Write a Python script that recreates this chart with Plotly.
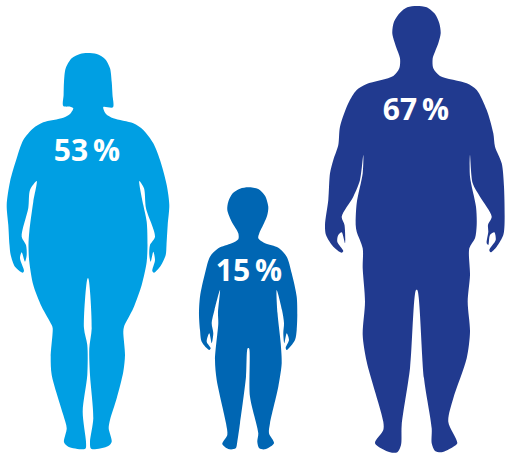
import plotly.graph_objects as go

groups = ["Women", "Children", "Men"]
shares = [53, 15, 67]
unit = "\u2009%"
colors = ["#009FE3", "#0066B3", "#213A8F"]

woman_outline = [
    (87.3,53),(96.7,54),(105,59),(110,68.3),(111.7,81.7),(112.5,95),(113,107.3),(103.3,107),(106,114),(113.3,118.3),
    (133.3,123.3),(143.3,130),(153.3,143.3),(160,160),(166.7,185),(169.3,205),(167.7,225),(166.5,245),(165.7,255),
    (160.7,265.7),(154,272.7),(152.3,271),(155,260),(153.3,251.7),(150.7,261.7),(149.3,255),(150,245),(155,236.7),
    (146,208.3),(144,188.3),(139.3,181),(143.3,205),(146.7,221.7),(147.5,245),(146.7,261.7),(141.7,285),(133.3,308.3),
    (124,326.7),(123.3,331.7),(125,355),(123.3,371.7),(116.7,398.3),(110,420),(108.7,428.3),(111.7,441.7),(108.3,446),
    (93.3,449.3),(90.7,448.3),(90,441.7),(93.3,418.3),(90,375),(89.3,348.3),(91.7,328.3),(88.3,278.3),(87.6,278.3),
    (84,328.3),(87.3,345),(87.3,375),(82.7,411.7),(86,441.7),(85.7,448.3),(83.3,449.3),(68.3,446.7),(64,442.3),
    (66.7,428.3),(63.3,415),(51.7,375),(50.7,356.7),(52.7,328.3),(51.7,325),(41.7,306.7),(33.3,285),(29.3,261.7),
    (28.5,245),(29.3,231.7),(33.3,201.7),(36.7,181),(30,190),(28.3,208),(21.7,236.7),(26,245),(26.7,255),(25,261.7),
    (21.7,252.3),(20,258.3),(24,271),(22.7,272.7),(15,266.7),(10.7,255),(9.5,245),(8.3,225),(6.7,205),(10,181.7),
    (16.7,158.3),(23.3,140),(33.3,128.3),(43.3,122.3),(63.3,117.7),(70,114),(73.3,108.3),(71,107),(63.3,106),
    (63.6,95),(64,81.7),(65.7,68.3),(71.7,58.3),(80,54),(87.3,53),
]
child_outline = [
    (248.3,187.3),(258.3,189),(265,195.7),(268.3,206.7),(267.3,215),(264,223.3),(259.3,233.3),(258.3,238.3),(265,243.3),(278.3,247.7),
    (286.7,256.7),(291.7,273.3),(296.7,296.7),(297.3,315),(296.7,330),(295,340),(286.7,350),(285.7,347.7),(289,340),
    (286.7,333.3),(284.3,343.3),(283.3,333.3),(284,323.3),(282,310),(276.7,290),(277.5,313),(280.7,343.3),(281.7,363.3),
    (278.3,386.7),(270,423.3),(269,433.3),(274,443.3),(265,449.3),(259.3,448.3),(257.3,441.7),(258.3,433.3),(250,396.7),
    (249,348.3),(247.7,348.3),(246,376.7),(240,423.3),(237.3,441.7),(235.7,448.3),(229.3,449.3),(222.3,444),(227.3,435),
    (226,423.3),(216.7,380),(215,360),(218.3,323.3),(218,313),(220,290),(214.5,310),(211.7,323.3),(213.3,333.3),
    (211.7,343.3),(209.3,333.3),(206.7,341.7),(210.7,348.3),(209.3,350),(201.7,341.7),(200,330),(199,315),(200,296.7),
    (205,273.3),(210,256.7),(218.3,248.3),(231.7,243.3),(238.3,239.3),(238.3,233.3),(231.7,221.7),(227.3,210),
    (228.3,201.7),(232.7,193.3),(240,188.7),(248.3,187.3),
]
man_outline = [
    (416.7,6),(426.7,7.3),(435,14),(439.3,23.3),(440.7,33.3),(438.3,43.3),(435,51.7),(432.7,58.3),(433.3,68.3),(440,76),(466.7,83.3),(476.7,90),
    (486.7,110),(493.3,133.3),(495,146.7),(501.7,163.3),(504,186.7),(504.5,225),(503.3,235),(496.7,246.7),(490.7,252.3),
    (489.3,250),(495.7,240),(494.3,232.3),(490,235),(488.3,245),(486.7,243.3),(488.3,231.7),(488,225),(491.7,216.7),
    (480,196.7),(472.7,183.3),(470,155),(470,176.7),(476,206.7),(476.7,225),(475,238.3),(469.3,248.3),(470,275),
    (467.7,301.7),(470,331.7),(466.7,358.3),(453.3,398.3),(448.3,421.7),(457.3,443.3),(453.3,446.7),(441.7,452.3),
    (435,451),(431.7,443.3),(431.7,428.3),(424,378.3),(417.3,290),(416,290),(410,368.3),(401.7,425),(401,445),
    (397.3,452.3),(390,452.3),(375,443.3),(383.3,430),(383.3,421.7),(366.7,361.7),(362.7,335),(365,301.7),(362.7,268.3),
    (362.7,248.3),(356.7,231.7),(355.7,225),(356.7,203.3),(362.7,173.3),(363.3,155),(360,180),(353.3,196.7),(341.7,216.7),
    (344.5,225),(345,243.3),(341.7,232.3),(338.3,235),(337.3,241.7),(343.3,251),(341.7,252.7),(333.3,246.7),(326,235),
    (325,225),(328.3,200),(330,173.3),(333.3,160),(338.3,145),(340,126.7),(348.3,103.3),(356.7,90),(366.7,84),(393.3,76),
    (399.3,68.3),(400,58.3),(396,46.7),(392.3,33.3),(394,21.7),(400,12.7),(407.3,7.3),(416.7,6),
]
outlines = [woman_outline, child_outline, man_outline]
label_x = [87, 249, 416]
label_y = [153.5, 273, 112]

fig = go.Figure()
for name, outline, color in zip(groups, outlines, colors):
    fig.add_trace(go.Scatter(
        x=[p[0] for p in outline], y=[p[1] for p in outline],
        mode="lines", fill="toself", fillcolor=color,
        line=dict(color=color, width=0, shape="spline", smoothing=0.8),
        name=name, hoverinfo="name", showlegend=False,
    ))
fig.add_trace(go.Scatter(
    x=label_x, y=label_y, mode="text",
    text=[f"{v}{unit}" for v in shares],
    textposition="middle center",
    textfont=dict(family="Open Sans", size=30, color="white", weight="bold"),
    hoverinfo="skip", showlegend=False,
))
fig.update_layout(
    width=505, height=453, autosize=False,
    margin=dict(l=0, r=0, t=0, b=0),
    paper_bgcolor="white", plot_bgcolor="white",
    xaxis=dict(range=[0, 505], visible=False, fixedrange=True),
    yaxis=dict(range=[453, 0], visible=False, fixedrange=True),
)
fig.write_html(
    "out.html",
    config=dict(displayModeBar=False),
    post_script="document.body.style.margin='0';document.body.style.overflow='hidden';",
)
